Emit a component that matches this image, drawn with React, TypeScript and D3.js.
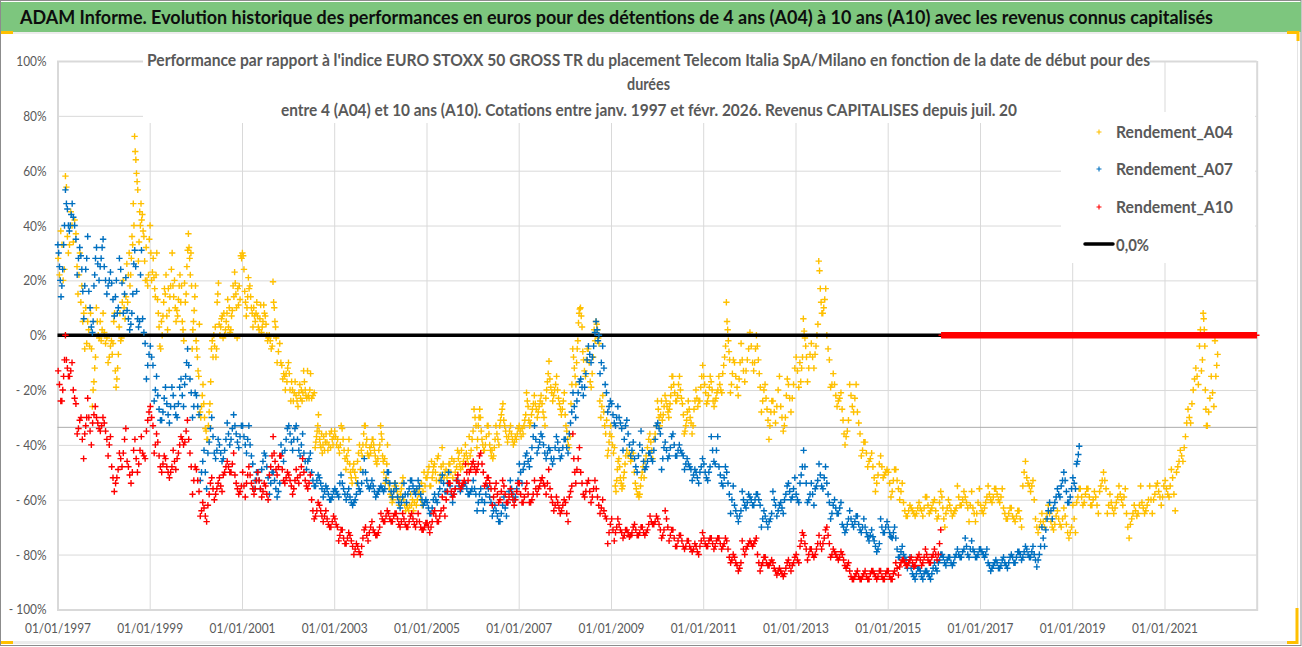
import * as d3 from "d3";
import React, { useEffect, useRef } from "react";

const bannerTitle =
  "ADAM Informe. Evolution historique des performances en euros pour des détentions de 4 ans (A04) à 10 ans (A10) avec les revenus connus capitalisés";
const chartTitle = [
  "Performance par rapport à l'indice EURO STOXX 50 GROSS TR  du placement Telecom Italia SpA/Milano en fonction de la date de début pour des",
  "durées",
  "entre 4 (A04) et 10 ans (A10). Cotations entre janv. 1997 et févr. 2026. Revenus CAPITALISES depuis juil. 20",
];
const yTicks = [100, 80, 60, 40, 20, 0, -20, -40, -60, -80, -100];
const xTickYears = [1997, 1999, 2001, 2003, 2005, 2007, 2009, 2011, 2013, 2015, 2017, 2019, 2021];
const strayLine = -33.6;
const legendLabels = ["Rendement_A04", "Rendement_A07", "Rendement_A10"];

// one row per month from Jan 1997, each row = readings of that month (%)
const a04: number[][] = [
  // 1997
  [28,22,38],[24,20,33],[58,54,36,30],[40,45,33],[34,42,37],[30,22,15,25],[12,18,5,8],[5,-3,10,-5],[2,-4,8,-5],[-8,-12,-17,-20,-26],[10,5,0,-1],[8,2,-2,5],
  // 1998
  [1,-3,-1],[-4,-8,-10],[-2,-7,-3,5,8],[-7,-12,-16,-19,-13],[3,8,-2,-1,12],[14,6,10,20],[26,12,22,30,18],[40,48,33,36,28,22],[72.5,67,64,59,56,53],[42,48,40,45,34,27],[44,38,36,27,20],[35,22,18,20,32],
  // 1999
  [40,30,20,23,28],[30,22,14,17,21],[13,8,3,-4,-5],[17,12,7,0,5],[15,22,7,2,17],[30,24,18,14,9],[18,14,20,10,5],[22,18,13,7,9],[12,18,5,2,-2],[31,25,15,12,19],[37,32,28,22,30,18],[18,14,9,5,2,-5],
  // 2000
  [-2,-5,-8,-13,-15,4],[-18,-22,-26,-30,-28],[-25,-30,-34,-35,-38],[-17,-25,-28,-33,-38],[-5,-2,-8,0,-4],[19,15,12,-5,-8,3],[4,0,3,6,7],[5,2,0,8,-1],[8,13,3,10,1],[14,18,9,7,2],[23,19,15,10,-1,17],[28,29,13,18,11],
  // 2001
  [30,29,24,16,12],[17,21,14,10,7],[18,14,10,8,3],[12,8,5,7,10],[7,3,2,6,11],[8,11,5,3,1],[7,4,0,-2,-1],[-4,-5,-2,0],[19.5,12,10,5,3,-1],[-3,-6,-10],[-10,-11,-16,-14],[-12,-17,-14,-20,-15],
  // 2002
  [-10,-14,-20,-24,-17],[-17,-21,-24,-20],[-22,-24,-26,-21],[-21,-24,-20,-23,-18],[-13,-17,-20,-22,-23],[-14,-20,-23,-22,-13],[-23,-22,-21],[-29,-33,-35,-37,-39,-41],[-35,-38,-40,-41,-36,-43],[-36,-39,-42,-37,-40],[-39,-42,-40,-36],[-37,-40,-38,-35,-41],
  // 2003
  [-35,-37,-40,-38],[-33,-40,-43,-41],[-34,-38,-42,-45],[-38,-42,-46,-44,-49],[-47,-50,-52,-54,-49],[-54,-52,-50,-47],[-46,-43,-40,-49],[-33,-36,-40,-44,-42],[-33,-40,-38,-43,-44],[-38,-40,-43,-41,-44],[-38,-40,-42,-44,-46],[-40,-42,-45,-47],
  // 2004
  [-33,-36,-38,-44,-46,-50],[-40,-47,-52,-54,-45],[-54,-56,-58,-59],[-54,-55,-57,-60,-61],[-55,-57,-59,-62],[-52,-54,-56,-58,-60],[-60,-62,-64,-62],[-58,-62,-64,-63],[-62,-60,-64,-61],[-58,-60,-62,-57],[-56,-58,-60,-54,-62],[-52,-55,-50,-57],
  // 2005
  [-52,-50,-48,-55],[-48,-50,-52,-46,-55],[-47,-50,-53,-45],[-48,-51,-53,-44],[-41,-47,-52,-50],[-47,-50,-52,-49],[-47,-50,-45,-52],[-48,-50,-46],[-42,-45,-43,-47,-49],[-44,-46,-48,-42],[-40,-43,-45,-47],[-38,-42,-44,-37],
  // 2006
  [-35,-27,-30,-33],[-27,-30,-33,-38,-41],[-30,-35,-38,-40,-42],[-33,-37,-40,-42],[-33,-36,-40,-42,-44],[-38,-41,-44,-45,-42],[-33,-36,-38,-40],[-25,-27,-29,-31,-33],[-31,-33,-35,-37],[-33,-35,-37,-39],[-36,-38,-40,-39],[-34,-36,-38,-37],
  // 2007
  [-33,-35,-37,-34],[-29,-31,-33,-36],[-21,-24,-26,-31,-33],[-25,-27,-29,-32],[-22,-25,-27,-30],[-22,-24,-26,-28],[-25,-28,-30,-33],[-9.5,-14,-17,-20,-23],[-16,-19,-21,-24],[-15,-18,-20,-22],[-20,-23,-25,-27],[-21,-24,-27,-29],
  // 2008
  [-29,-33,-35,-38,-40],[-18,-25,-37,-41],[-5,-8,-12,-15,-18],[9.5,8,4.5,-2,-5,-10],[10,7,3,-6,-9],[-5,-9,-15,-13],[-5,-10,-17,-19],[-2,2,-8,-14],[5,4,2,-1,-3],[-22,-26,-30,-24],[-28,-33,-36,-31],[-33,-36,-39,-42,-44],
  // 2009
  [-37,-40,-43,-41],[-46,-49,-53,-57,-55],[-45,-48,-52,-54,-56],[-44,-47,-50,-52,-55],[-42,-44,-43],[-43,-45,-46],[-50,-54,-56,-58],[-52,-55,-58,-59,-58],[-50,-48,-52,-46],[-38,-41,-44],[-36,-39,-42,-45],[-33,-36,-38],
  // 2010
  [-24,-27,-30,-33,-29],[-26,-29,-31,-24],[-22,-24,-26,-28],[-15,-19,-22,-25,-27,-30],[-15,-18,-21,-24],[-15,-18,-22,-24],[-20,-23,-25,-29],[-28,-31,-33,-35,-36],[-24,-27,-30,-32],[-24,-27,-33,-36],[-20,-23,-26,-24],[-11,-15,-19,-24],
  // 2011
  [-15,-18,-21,-25],[-15,-19,-22,-24],[-17,-20,-24,-26],[-20,-21,-23,-24],[-15,-18,-20,-21],[-4,-8,-11,-14],[12,5,2,-2,-6,-9],[-9,-14,-18,-21],[-10,-15,-19],[-3,-10,-16,-22],[-9,-13,-17],[-5,-9,-13],
  // 2012
  [1,-4,-10],[0,-5,-10,-13],[-4,-9,-14,-19],[-20,-24,-28],[-18,-23,-27,-31],[-24,-28,-33,-38],[-24,-28,-32],[-15,-20,-26],[-26,-30,-35],[-16,-22,-30,-33],[-18,-23,-28],[-12,-18,-23],
  // 2013
  [-8,-13,-19],[-8,-12,-17,-10],[6,1.5,-1,-4,-8],[-7,-12,-17],[-3,-8,-12],[4,0,-4,-7],[27,23.5,17,12,8],[17,13,10,8],[0,-5,-9],[-14,-18,-19],[-18,-22,-26],[-21,-23,-24],
  // 2014
  [-27,-31,-36,-40],[-31,-35,-37],[-18,-22,-26],[-18,-23,-28],[-28,-32,-36],[-39,-42,-44],[-39,-43,-48],[-43,-45,-46],[-48,-52,-57],[-47,-51,-54],[-44,-48,-52],[-49,-50,-51],
  // 2015
  [-50,-54,-59],[-49,-53,-57],[-49,-53,-56],[-54,-57,-60],[-61,-64,-66],[-62,-64,-66],[-63,-64,-65],[-63,-65,-66],[-61,-63,-64],[-59,-63,-66],[-59,-62,-65],[-61,-63,-64],
  // 2016
  [-60,-64,-67],[-57,-61,-66],[-59,-63,-67,-70],[-60,-63,-65],[-62,-64,-66],[-63,-64,-65],[-55,-59,-62],[-57,-60,-62],[-59,-61,-63],[-57,-62,-68],[-63,-65,-68],[-56,-61,-65],
  // 2017
  [-62,-64,-65],[-59,-61,-63],[-55,-58,-60],[-56,-59,-61],[-56,-58,-60],[-56,-59,-61],[-63,-65,-67],[-63,-65,-67],[-63,-66,-67],[-64,-66,-68],[-64,-67,-70],[-46,-50,-55],
  // 2018
  [-52,-54,-55],[-53,-55,-57],[-60,-67,-70],[-68,-70,-72],[-65,-68,-70],[-62,-65,-67],[-65,-68,-70],[-66,-69,-71],[-64,-67,-69],[-63,-67,-70],[-66,-69,-72],[-70,-72,-74],
  // 2019
  [-62,-67,-72],[-56,-59,-61],[-56,-59,-62],[-56,-58,-61],[-56,-59,-62],[-57,-60,-62],[-59,-62,-65],[-53,-55,-57],[-50,-53,-56],[-58,-62,-65],[-61,-63,-65],[-59,-61,-63],
  // 2020
  [-55,-58,-60],[-56,-59,-62],[-65,-70,-74],[-65,-67,-69],[-62,-64,-66],[-55,-62,-65],[-61,-63,-65],[-60,-62,-64],[-55,-60,-65],[-55,-58,-60],[-54,-57,-59],[-55,-59,-62],
  // 2021
  [-53,-56,-58],[-49,-55,-59],[-52,-58,-64],[-46,-48,-50],[-42,-44,-46],[-32,-37,-41],[-27,-30,-32],[-16,-20,-25],[-12,-15,-18],[-9,-13,2,-4],[8,6,2,-4,-20,-27,-33],[-23,-28,-33],
  // 2022
  [-15,-21,-26],[-7,-11,-15,-2],
];

const a07: number[][] = [
  // 1997
  [33,30,25,20,14],[40,33,24,18],[53,48,46,40],[48,44,40,38],[43,40,35],[32,28,22],[29,24,16,6],[36,28,24,18],[16,10,3],[28,22,18,5,1],[32,26,20],[35,32,28,25],
  // 1998
  [25,20,15],[23,20,18],[19,13,7],[10,8,20,14],[28,24,19],[21,15,8],[9,6,2],[26,15,8,4],[31,25,16,6],[31,22,5,3],[6,1,-3],[-7,-11,-16],
  // 1999
  [-4,-8,-11],[-15,-20,-24],[-22,-27,-31],[-23,-28,-31],[-19,-25,-29],[-19,-26,-32],[-22,-26,-29],[-19,-25,-30],[-16,-22,-26],[-5,-10,-15,-18],[-11,-16,-21],[-21,-26,-30],
  // 2000
  [-22,-26,-29],[-46,-50,-53],[-42,-50,-56],[-34,-39,-43],[-30,-37,-43],[-38,-42,-45],[-40,-43,-46],[-38,-42,-45],[-32,-36,-40],[-29,-34,-38],[-33,-36,-39],[-33,-37,-41],
  // 2001
  [-33,-37,-40],[-33,-38,-43],[-40,-44,-47],[-50,-53,-56],[-50,-53,-56],[-43,-46,-49],[-44,-48,-52],[-50,-54,-58],[-50,-53,-56],[-54,-57,-59],[-40,-43,-46],[-34,-38,-42],
  // 2002
  [-33,-36,-39],[-34,-38,-42],[-33,-38,-42],[-36,-40,-44],[-43,-46,-49],[-43,-45,-46],[-50,-53,-55],[-51,-53,-55],[-52,-54,-56],[-55,-57,-59],[-56,-58,-60],[-57,-59,-60],
  // 2003
  [-56,-57,-58],[-51,-54,-59],[-54,-56,-58],[-56,-58,-60],[-59,-61,-62],[-58,-60,-61],[-54,-56,-57],[-45,-50,-54],[-50,-53,-55],[-53,-55,-56],[-55,-57,-59],[-56,-57,-58],
  // 2004
  [-55,-56,-57],[-50,-53,-56],[-50,-54,-57],[-54,-57,-59],[-56,-59,-61],[-59,-61,-63],[-54,-58,-61],[-53,-56,-58],[-53,-55,-57],[-53,-56,-58],[-55,-58,-60],[-60,-61,-62],
  // 2005
  [-61,-63,-65],[-60,-63,-65],[-58,-60,-61],[-53,-56,-58],[-51,-54,-57],[-50,-54,-57],[-55,-58,-61],[-53,-56,-58],[-53,-55,-57],[-54,-55,-56],[-54,-56,-58],[-56,-57,-58],
  // 2006
  [-53,-56,-58],[-58,-61,-64],[-56,-60,-64],[-55,-58,-61],[-56,-59,-61],[-62,-64,-66],[-64,-66,-68],[-62,-65,-68],[-59,-63,-66],[-53,-57,-61],[-56,-58,-60],[-53,-56,-59],
  // 2007
  [-47,-50,-54],[-44,-47,-49],[-43,-46,-48],[-37,-41,-45],[-33,-38,-43],[-36,-39,-41],[-37,-40,-43],[-41,-43,-45],[-42,-45,-47],[-37,-41,-45],[-39,-42,-45],[-38,-41,-44],
  // 2008
  [-38,-41,-43],[-28,-32,-36],[-21,-26,-30],[-17,-21,-24],[-16,-19,-22],[-9,-14,-19],[-4,-7,-10],[1,-4,-8],[5,2,-2,0],[-4,-10,-14],[-12,-18,-21],[-24,-26,-28],
  // 2009
  [-25,-29,-32],[-26,-30,-33],[-30,-32,-34],[-33,-38,-42],[-31,-36,-40],[-39,-42,-44],[-45,-48,-50],[-35,-40,-44],[-42,-46,-49],[-43,-46,-48],[-43,-45,-46],[-33,-38,-42],
  // 2010
  [-32,-34,-36],[-41,-45,-49],[-39,-42,-45],[-37,-41,-44],[-36,-40,-44],[-40,-42,-44],[-42,-43,-44],[-45,-47,-49],[-47,-48,-49],[-49,-51,-53],[-50,-52,-54],[-45,-48,-50],
  // 2011
  [-47,-50,-52],[-48,-50,-53],[-37,-42,-46],[-37,-42,-47],[-48,-51,-54],[-48,-52,-55],[-50,-54,-58],[-55,-60,-65],[-62,-64,-66],[-64,-66,-68],[-57,-60,-62],[-58,-61,-63],
  // 2012
  [-59,-60,-62],[-58,-60,-62],[-58,-60,-62],[-64,-67,-70],[-66,-68,-70],[-65,-67,-68],[-57,-60,-62],[-62,-64,-66],[-61,-63,-65],[-55,-58,-60],[-54,-57,-60],[-52,-56,-59],
  // 2013
  [-58,-60,-61],[-48,-51,-54],[-42,-48,-54],[-58,-60,-61],[-54,-58,-62],[-53,-55,-56],[-47,-51,-55],[-48,-52,-56],[-54,-58,-61],[-62,-65,-67],[-60,-63,-65],[-61,-63,-65],
  // 2014
  [-69,-70,-72],[-67,-69,-71],[-64,-67,-69],[-66,-68,-70],[-66,-69,-71],[-67,-70,-72],[-70,-72,-73.5],[-71,-73,-75],[-73.5,-75,-77],[-76,-78,-79],[-67,-70,-72],[-68,-70,-72],
  // 2015
  [-70,-72,-73.5],[-70,-72,-74],[-74,-78,-81],[-77,-79,-81],[-80,-81,-82],[-81,-83,-85],[-85,-87,-88],[-85,-87,-89],[-85,-86,-88],[-86,-87,-89],[-86,-87,-88],[-85,-87,-89],
  // 2016
  [-83,-85,-86],[-80,-82,-83],[-80,-81,-83],[-81,-82,-84],[-81,-83,-84],[-80,-81,-83],[-78,-80,-81],[-78,-79,-81],[-74,-77,-80],[-75,-78,-81],[-78,-79,-81],[-78,-80,-81],
  // 2017
  [-78,-79,-80],[-78,-80,-81],[-83,-84,-86],[-83,-84,-85],[-82,-83,-85],[-82,-84,-85],[-81,-83,-84],[-81,-83,-85],[-80,-81,-83],[-79,-81,-83],[-79,-80,-82],[-77,-79,-81],
  // 2018
  [-78,-80,-81],[-77,-79,-81],[-80,-82,-84.5],[-77,-80,-82],[-70,-74,-77],[-64,-67,-71],[-61,-64,-67],[-59,-61,-63],[-56,-58,-59],[-50,-53,-55],[-53,-57,-61],[-56,-59,-61],
  // 2019
  [-52,-54,-56],[-40.5,-43.5,-46,-47],
];

const a10: number[][] = [
  // 1997
  [-13,-18,-24],[-9,-15,-20,-24],[0,-9,-12,-15],[-10,-13,-15],[-20,-23,-25],[-31,-34,-36],[-30,-38,-45],[-23,-30,-33,-36],[-30,-35,-40],[-26,-29,-32],[-30,-32,-34],[-30,-33,-35],
  // 1998
  [-32,-35,-38],[-37,-40,-44],[-48,-52,-57],[-49,-52,-54],[-43,-45,-48],[-34,-38,-43],[-46,-48,-51],[-42,-50,-54],[-38,-45,-50],[-37,-42,-47],[-43,-44,-45],[-28,-31,-35],
  // 1999
  [-26,-30,-33],[-36,-40,-43],[-39,-44,-48],[-44,-47,-50],[-45,-48,-50],[-48,-50,-52],[-42,-46,-49],[-40,-43,-45],[-37,-38,-40],[-31,-35,-39],[-38,-43,-48],[-48,-53,-58],
  // 2000
  [-49,-53,-57],[-61,-64,-66],[-63,-66,-68],[-54,-58,-62],[-52,-56,-60],[-54,-56,-58],[-52,-55,-57],[-48,-50,-51],[-46,-48,-50],[-43,-47,-50],[-51,-54,-56],[-55,-57,-58],
  // 2001
  [-50,-55,-59],[-48,-51,-54],[-51,-54,-56],[-53,-56,-58],[-50,-53,-56],[-54,-57,-59],[-55,-58,-60],[-44,-48,-51],[-37,-43,-46,-49],[-44,-48,-51],[-44,-49,-53],[-50,-52,-54],
  // 2002
  [-51,-53,-55],[-53,-56,-58],[-49,-52,-54],[-45,-48,-51],[-50,-53,-55],[-51,-54,-56],[-60,-64,-67],[-61,-64,-66],[-62,-64,-66],[-64,-66,-68],[-67,-69,-70],[-66,-68,-70],
  // 2003
  [-67,-69,-70],[-71,-73,-75],[-71,-74,-76],[-72,-74,-76],[-73,-75,-77],[-76,-78,-80],[-77,-79,-80],[-71,-74,-77],[-70,-73,-75],[-68,-70,-72],[-71,-72,-73],[-70,-72,-73],
  // 2004
  [-65,-67,-68],[-64,-66,-68],[-65,-67,-68],[-65,-66,-68],[-65,-67,-69],[-65,-68,-70],[-67,-69,-70],[-66,-68,-70],[-65,-67,-69],[-65,-68,-70],[-68,-70,-71],[-68.5,-70,-71],
  // 2005
  [-68.5,-70,-72],[-65,-68,-70],[-64,-66,-68],[-64,-66,-68],[-59,-63,-66],[-54,-57,-60],[-54,-57,-59],[-53,-56,-58],[-51,-54,-56],[-53,-54,-55],[-47,-50,-53],[-47,-49,-50],
  // 2006
  [-46,-48,-50],[-44,-47,-49],[-43,-47,-50],[-52,-54,-55],[-52,-54,-56],[-56,-59,-62],[-54,-58,-61],[-53,-57,-60],[-55,-58,-61],[-56,-59,-61],[-58,-60,-62],[-54,-57,-60],
  // 2007
  [-54,-58,-61],[-56,-59,-61],[-54,-58,-61],[-58,-60,-61],[-53,-56,-58],[-53,-55,-56],[-52,-54,-55],[-49,-54,-58],[-56,-59,-61],[-59,-62,-64],[-61,-63,-65],[-60,-62,-64],
  // 2008
  [-61,-65,-68],[-55,-57,-59],[-36,-45,-50,-54],[-41,-45,-49],[-50,-54,-58],[-54,-57,-59],[-53,-57,-61],[-53,-56,-59],[-56,-59,-62],[-60,-63,-65],[-64,-66,-67],[-69,-72,-76],
  // 2009
  [-67,-71,-75],[-67,-70,-72],[-69,-71,-72],[-71,-73,-74],[-71,-72,-73.5],[-70,-72,-73],[-69,-71,-73],[-70,-72,-73],[-70,-72,-73],[-69,-71,-72],[-66,-68,-69],[-66,-68,-69],
  // 2010
  [-67,-69,-71],[-71,-73,-74],[-64,-67,-70],[-71,-73,-75],[-71,-74,-77],[-73,-75,-77],[-73,-75,-77],[-75,-77,-78],[-75,-77,-78],[-76,-78,-79],[-77,-79,-80],[-72,-75,-77],
  // 2011
  [-74,-76,-77],[-74,-75,-77],[-74,-76,-78],[-74,-75,-77],[-74,-76,-78],[-74,-76,-77],[-75,-78,-81],[-80,-82,-83],[-81,-83,-84],[-83,-85,-86],[-75,-78,-80],[-76,-77,-78],
  // 2012
  [-75,-76,-77],[-74,-75,-76],[-80,-83,-86],[-81,-83,-84],[-81,-83,-84],[-82,-83,-84],[-83,-85,-86],[-85,-86,-87.5],[-86,-87,-88],[-83,-85,-87],[-82,-84,-86],[-81,-83,-84],
  // 2013
  [-80,-82,-83],[-72,-75,-77],[-73,-76,-78],[-78,-80,-82],[-78,-80,-81],[-76,-78,-80],[-73,-76,-78],[-71,-74,-76],[-70,-73,-76],[-78,-80,-81],[-79,-80,-81],[-79,-81,-82],
  // 2014
  [-80,-82,-84],[-83,-84,-85],[-86,-88,-89],[-87,-88,-89],[-86,-88,-89],[-87,-88,-89],[-86,-88,-89],[-86,-87,-89],[-86,-87,-88],[-86,-88,-89],[-86,-88,-89],[-86,-87,-89],
  // 2015
  [-86,-88,-89],[-86,-87,-89],[-83,-85,-87.5],[-82,-83,-84.5],[-82,-83,-84],[-82,-83,-84],[-81,-83,-84.5],[-81,-82,-84],[-80,-82,-84],[-78,-81,-83],[-80,-82,-83],[-80,-81,-83],
  // 2016
  [-78,-80,-82],[-71,-76,-80],
  [0,0,0,0,0],[0,0,0,0,0],[0,0,0,0,0],[0,0,0,0,0],[0,0,0,0,0],[0,0,0,0,0],[0,0,0,0,0],[0,0,0,0,0],[0,0,0,0,0],[0,0,0,0,0],
  // 2017
  [0,0,0,0,0],[0,0,0,0,0],[0,0,0,0,0],[0,0,0,0,0],[0,0,0,0,0],[0,0,0,0,0],[0,0,0,0,0],[0,0,0,0,0],[0,0,0,0,0],[0,0,0,0,0],[0,0,0,0,0],[0,0,0,0,0],
  // 2018
  [0,0,0,0,0],[0,0,0,0,0],[0,0,0,0,0],[0,0,0,0,0],[0,0,0,0,0],[0,0,0,0,0],[0,0,0,0,0],[0,0,0,0,0],[0,0,0,0,0],[0,0,0,0,0],[0,0,0,0,0],[0,0,0,0,0],
  // 2019
  [0,0,0,0,0],[0,0,0,0,0],[0,0,0,0,0],[0,0,0,0,0],[0,0,0,0,0],[0,0,0,0,0],[0,0,0,0,0],[0,0,0,0,0],[0,0,0,0,0],[0,0,0,0,0],[0,0,0,0,0],[0,0,0,0,0],
  // 2020
  [0,0,0,0,0],[0,0,0,0,0],[0,0,0,0,0],[0,0,0,0,0],[0,0,0,0,0],[0,0,0,0,0],[0,0,0,0,0],[0,0,0,0,0],[0,0,0,0,0],[0,0,0,0,0],[0,0,0,0,0],[0,0,0,0,0],
  // 2021
  [0,0,0,0,0],[0,0,0,0,0],[0,0,0,0,0],[0,0,0,0,0],[0,0,0,0,0],[0,0,0,0,0],[0,0,0,0,0],[0,0,0,0,0],[0,0,0,0,0],[0,0,0,0,0],[0,0,0,0,0],[0,0,0,0,0],
  // 2022
  [0,0,0,0,0],[0,0,0,0,0],[0,0,0,0,0],[0,0,0,0,0],[0,0,0,0,0],[0,0,0,0,0],[0,0,0,0,0],[0,0,0,0,0],[0,0,0,0,0],[0,0,0,0,0],[0,0,0,0,0],[0,0,0,0,0],
];

const YELLOW = "#FFC000";
const BLUE = "#0070C0";
const RED = "#FF0000";
const GREY_TEXT = "#595959";
const GRID = "#D9D9D9";
const FONT = "Lato, 'Noto Sans', sans-serif";

const App: React.FC = () => {
  const svgRef = useRef<SVGSVGElement>(null);

  useEffect(() => {
    const svg = d3.select(svgRef.current);
    svg.selectAll("*").remove();

    const start = new Date(Date.UTC(1997, 0, 1));
    const x = d3.scaleUtc().domain([start, new Date(Date.UTC(2023, 0, 1))]).range([57.5, 1256.7]);
    const y = d3.scaleLinear().domain([-100, 100]).range([609.4, 61]);

    // frame + banner
    svg.append("rect").attr("width", 1302).attr("height", 647).attr("fill", "#fff");
    svg.append("rect").attr("x", 0.5).attr("y", 0.5).attr("width", 1300.5).attr("height", 645).attr("fill", "none").attr("stroke", "#8c8c8c");
    svg.append("rect").attr("x", 1).attr("y", 2).attr("width", 1300).attr("height", 30).attr("fill", "#7DC67E");
    svg.append("rect").attr("x", 1).attr("y", 32).attr("width", 1296).attr("height", 2).attr("fill", "#ececec");
    svg.append("rect").attr("x", 1).attr("y", 641).attr("width", 1296).attr("height", 3).attr("fill", "#ececec");
    svg.append("rect").attr("x", 1297).attr("y", 32).attr("width", 1).attr("height", 610).attr("fill", "#e4e4e4");
    svg
      .append("path")
      .attr("d", "M1,32.5H13M1,642.5H13M1287,32.5H1298V41M1287,642.5H1297V608")
      .attr("fill", "none")
      .attr("stroke", YELLOW)
      .attr("stroke-width", 3);

    svg
      .append("text")
      .attr("x", 20)
      .attr("y", 23.5)
      .attr("textLength", 1193)
      .attr("lengthAdjust", "spacingAndGlyphs")
      .attr("font-family", FONT)
      .attr("font-size", 19)
      .attr("font-weight", 700)
      .attr("fill", "#0d0d0d")
      .text(bannerTitle);

    // axes with gridlines
    const plotW = x.range()[1] - x.range()[0];
    const plotH = y.range()[0] - y.range()[1];
    const yAxis = d3
      .axisLeft(y)
      .tickValues(yTicks)
      .tickSize(-plotW)
      .tickPadding(11)
      .tickFormat((d) => {
        const v = +d;
        return v < 0 ? `- ${-v}%` : `${v}%`;
      });
    const xAxis = d3
      .axisBottom(x)
      .tickValues(xTickYears.map((yr) => new Date(Date.UTC(yr, 0, 1))))
      .tickSize(-plotH)
      .tickPadding(14)
      .tickFormat((d) => d3.utcFormat("%d/%m/%Y")(d as Date));

    const gy = svg.append("g").attr("transform", `translate(${x.range()[0]},0)`).call(yAxis);
    const gx = svg.append("g").attr("transform", `translate(0,${y.range()[0]})`).call(xAxis);
    [gy, gx].forEach((g) => {
      g.select(".domain").attr("stroke", GRID).attr("stroke-width", 2);
      g.selectAll(".tick line").attr("stroke", GRID).attr("stroke-width", 1);
      g.selectAll<SVGTextElement, unknown>("text")
        .attr("font-family", FONT)
        .attr("font-size", 14)
        .attr("fill", GREY_TEXT)
        .each(function () {
          // Lato runs wider than the Calibri of the reference
          const w = this.getComputedTextLength();
          d3.select(this).attr("textLength", w * 0.85).attr("lengthAdjust", "spacingAndGlyphs");
        });
    });

    svg
      .append("line")
      .attr("x1", x.range()[0])
      .attr("x2", x.range()[1])
      .attr("y1", y(strayLine))
      .attr("y2", y(strayLine))
      .attr("stroke", "#ababab")
      .attr("stroke-width", 1);

    // white boxes of title and legend sit over the grid
    svg.append("rect").attr("x", 143).attr("y", 50).attr("width", 1007).attr("height", 73).attr("fill", "#fff");
    svg.append("rect").attr("x", 1061).attr("y", 112).attr("width", 194).attr("height", 151).attr("fill", "#fff");

    const titleSpec = [
      { cx: 648.5, base: 65.5, len: 1003 },
      { cx: 648.5, base: 89.5, len: 43 },
      { cx: 649, base: 115.5, len: 736 },
    ];
    chartTitle.forEach((t, i) => {
      svg
        .append("text")
        .attr("x", titleSpec[i].cx)
        .attr("y", titleSpec[i].base)
        .attr("text-anchor", "middle")
        .attr("textLength", titleSpec[i].len)
        .attr("lengthAdjust", "spacingAndGlyphs")
        .attr("font-family", FONT)
        .attr("font-size", 17)
        .attr("font-weight", 700)
        .attr("fill", GREY_TEXT)
        .text(t);
    });

    // flatten the month rows into dated points, going back and forth inside the band
    const toPoints = (rows: number[][]) =>
      rows.flatMap((row, m) =>
        row.map((v, i) => {
          const t0 = d3.utcMonth.offset(start, m).getTime();
          const t1 = d3.utcMonth.offset(start, m + 1).getTime();
          const slot = m % 2 ? row.length - 1 - i : i;
          return { date: new Date(t0 + ((slot + 0.5) / row.length) * (t1 - t0)), v };
        }),
      );

    const plus = (px: number, py: number, r: number) => `M${px - r},${py}H${px + r}M${px},${py - r}V${py + r}`;

    const drawSeries = (rows: number[][], color: string) => {
      svg
        .append("path")
        .attr("d", toPoints(rows).map((p) => plus(x(p.date), y(p.v), 3.2)).join(""))
        .attr("fill", "none")
        .attr("stroke", color)
        .attr("stroke-width", 1.4);
    };

    drawSeries(a04, YELLOW);
    svg
      .append("line")
      .attr("x1", x.range()[0])
      .attr("x2", x.range()[1])
      .attr("y1", y(0))
      .attr("y2", y(0))
      .attr("stroke", "#000")
      .attr("stroke-width", 3.5);
    drawSeries(a07, BLUE);
    drawSeries(a10, RED);

    // legend
    const legendY = [132, 169, 207];
    const legendColors = [YELLOW, BLUE, RED];
    legendLabels.forEach((label, i) => {
      svg
        .append("path")
        .attr("d", plus(1099, legendY[i], 2.5))
        .attr("stroke", legendColors[i])
        .attr("stroke-width", 1.1);
      svg
        .append("text")
        .attr("x", 1116)
        .attr("y", legendY[i] + 6)
        .attr("textLength", 117)
        .attr("lengthAdjust", "spacingAndGlyphs")
        .attr("font-family", FONT)
        .attr("font-size", 17)
        .attr("font-weight", 700)
        .attr("fill", GREY_TEXT)
        .text(label);
    });
    svg
      .append("line")
      .attr("x1", 1085)
      .attr("x2", 1113)
      .attr("y1", 244)
      .attr("y2", 244)
      .attr("stroke", "#000")
      .attr("stroke-width", 3.5)
      .attr("stroke-linecap", "round");
    svg
      .append("text")
      .attr("x", 1116)
      .attr("y", 251)
      .attr("textLength", 33)
      .attr("lengthAdjust", "spacingAndGlyphs")
      .attr("font-family", FONT)
      .attr("font-size", 17)
      .attr("font-weight", 700)
      .attr("fill", GREY_TEXT)
      .text("0,0%");
  }, []);

  return (
    <svg
      ref={svgRef}
      width={1302}
      height={647}
      style={{ position: "absolute", left: 0, top: 0, display: "block" }}
    />
  );
};

export default App;
